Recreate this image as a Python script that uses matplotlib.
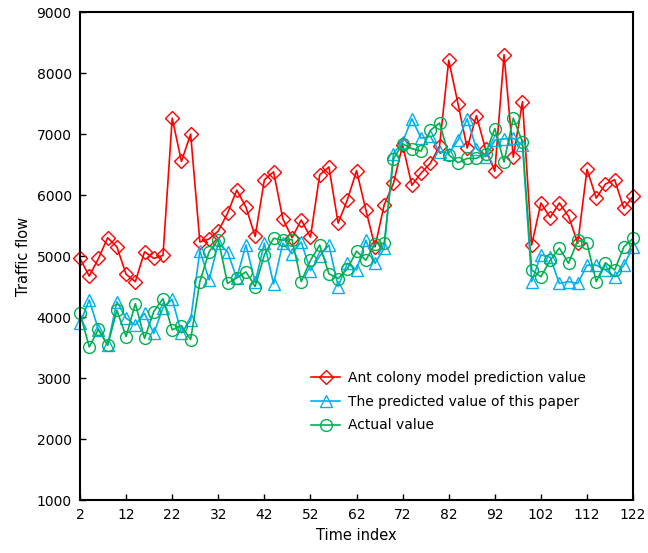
import numpy as np
import matplotlib
matplotlib.use('Agg')
import matplotlib.pyplot as plt

# time index 2, 4, ..., 122
time_index = np.arange(2, 123, 2)

ant_colony = [4960, 4670, 4960, 5300, 5150, 4700, 4580, 5070, 4960, 5010,
              7260, 6550, 7000, 5230, 5280, 5410, 5700, 6080, 5800, 5320,
              6250, 6380, 5610, 5300, 5590, 5310, 6330, 6460, 5540, 5920,
              6400, 5760, 5150, 5840, 6190, 6820, 6160, 6360, 6520, 6800,
              8210, 7500, 6770, 7300, 6750, 6390, 8300, 6620, 7530, 5180,
              5870, 5630, 5870, 5650, 5210, 6420, 5950, 6180, 6250, 5780,
              5980]

this_paper = [3900, 4280, 3790, 3540, 4250, 3980, 3870, 4060, 3730, 4150,
              4290, 3740, 3950, 5090, 4610, 5210, 5070, 4640, 5180, 4570,
              5210, 4540, 5210, 5040, 5230, 4760, 5000, 5180, 4500, 4880,
              4770, 5260, 4880, 5130, 6680, 6870, 7250, 6930, 6960, 6710,
              6680, 6900, 7250, 6760, 6630, 6900, 6920, 6930, 6820, 4580,
              5020, 4980, 4550, 4580, 4550, 4850, 4850, 4770, 4660, 4850,
              5150]

actual = [4060, 3510, 3800, 3540, 4110, 3680, 4220, 3650, 4090, 4300,
          3790, 3860, 3630, 4580, 5070, 5270, 4550, 4640, 4740, 4500,
          5020, 5290, 5260, 5270, 4580, 4930, 5180, 4710, 4630, 4790,
          5080, 4930, 5200, 5210, 6590, 6840, 6760, 6720, 7060, 7180,
          6660, 6530, 6600, 6600, 6680, 7090, 6540, 7260, 6870, 4770,
          4660, 4930, 5130, 4880, 5260, 5210, 4580, 4890, 4770, 5150,
          5290]

fig = plt.figure(figsize=(6.48, 5.53), dpi=100)
ax = fig.add_axes([0.1235, 0.0958, 0.8535, 0.8825])

ax.plot(time_index, ant_colony, color='#FF0000', lw=1.2, marker='D', ms=7,
        mfc='none', mec='#FF0000', mew=1.0, clip_on=False,
        label='Ant colony model prediction value')
ax.plot(time_index, this_paper, color='#00B0F0', lw=1.2, marker='^', ms=8.5,
        mfc='none', mec='#00B0F0', mew=1.0, clip_on=False,
        label='The predicted value of this paper')
ax.plot(time_index, actual, color='#00B050', lw=1.2, marker='o', ms=8.5,
        mfc='none', mec='#00B050', mew=1.0, clip_on=False,
        label='Actual value')

ax.set_xlim(2, 122)
ax.set_ylim(1000, 9000)
ax.set_xticks(np.arange(2, 123, 10))
ax.set_yticks(np.arange(1000, 9001, 1000))
ax.tick_params(direction='in', length=4, width=1, labelsize=10, pad=6)
for s in ax.spines.values():
    s.set_linewidth(1.5)

ax.set_xlabel('Time index', fontsize=10.5)
ax.set_ylabel('Traffic flow', fontsize=10.5)

ax.legend(loc='upper left', bbox_to_anchor=(0.395, 0.29), frameon=False,
          fontsize=10, handlelength=2.1, handletextpad=0.6, labelspacing=0.7)

fig.savefig('out.png', dpi=100)
plt.close(fig)
